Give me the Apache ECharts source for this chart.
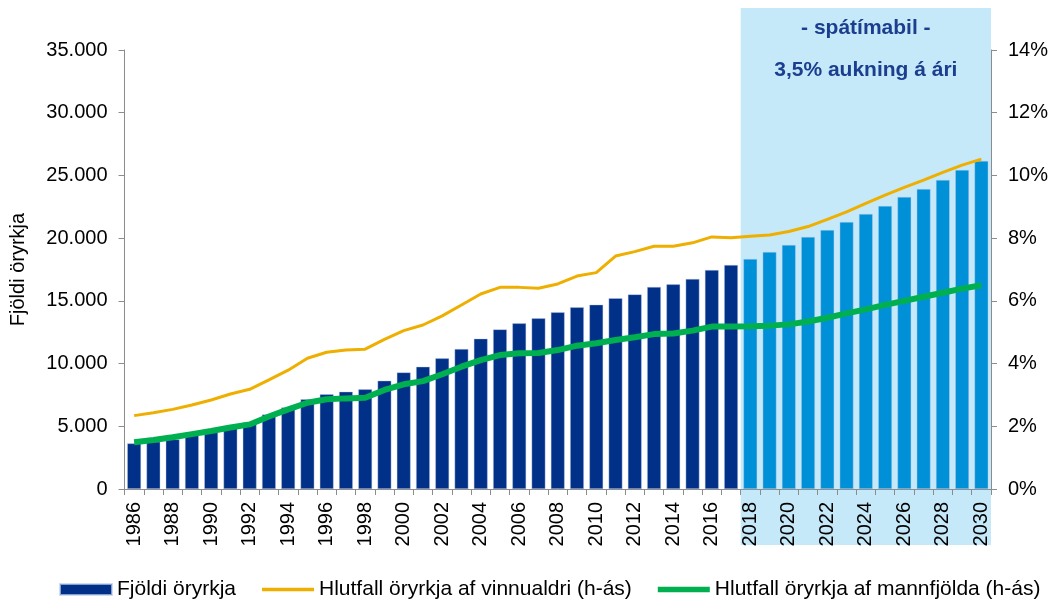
<!DOCTYPE html>
<html>
<head>
<meta charset="utf-8">
<script src="https://cdn.jsdelivr.net/npm/echarts@6/dist/echarts.min.js"></script>
<style>
html,body{margin:0;padding:0;background:#fff;}
#chart{width:1050px;height:599px;}
</style>
</head>
<body>
<div id="chart"></div>
<script>
const years = [];
for (let y = 1986; y <= 2030; y++) years.push(String(y));

const forecastStart = '2018';

const fjoldi = [3640, 3770, 3960, 4300, 4570, 5020, 5310, 5950, 6510, 7150, 7550, 7760, 7950, 8640, 9300, 9750, 10420,
  11160, 11990, 12730, 13210, 13610, 14090, 14490, 14700, 15210, 15520, 16110, 16320, 16750, 17460, 17860,
  18340, 18900, 19460, 20100, 20650, 21290, 21930, 22570, 23290, 23920, 24640, 25440, 26160];

const vinnualdri = [2.34, 2.43, 2.54, 2.68, 2.84, 3.03, 3.18, 3.48, 3.79, 4.17, 4.36, 4.43, 4.46, 4.77, 5.05, 5.23, 5.52,
  5.87, 6.22, 6.43, 6.43, 6.40, 6.54, 6.79, 6.90, 7.43, 7.57, 7.74, 7.74, 7.85, 8.04, 8.01,
  8.06, 8.10, 8.21, 8.37, 8.60, 8.84, 9.11, 9.37, 9.62, 9.85, 10.10, 10.33, 10.52];

const mannfjolda = [1.49, 1.56, 1.65, 1.75, 1.85, 1.96, 2.06, 2.31, 2.54, 2.75, 2.86, 2.89, 2.91, 3.16, 3.34, 3.44, 3.66,
  3.90, 4.11, 4.27, 4.33, 4.34, 4.43, 4.57, 4.65, 4.75, 4.84, 4.94, 4.96, 5.05, 5.18, 5.18,
  5.19, 5.21, 5.25, 5.34, 5.46, 5.60, 5.73, 5.87, 6.00, 6.13, 6.26, 6.39, 6.50];

const leftTicks = [0, 5000, 10000, 15000, 20000, 25000, 30000, 35000];
const rightTicks = [0, 2, 4, 6, 8, 10, 12, 14];

const names = ['Fjöldi öryrkja', 'Hlutfall öryrkja af vinnualdri (h-ás)', 'Hlutfall öryrkja af mannfjölda (h-ás)'];
const shadeTitle = '- spátímabil -';
const shadeSub = '3,5% aukning á ári';

const FONT = '"Liberation Sans", Arial, sans-serif';
const NAVY = '#003087';
const LIGHT = '#0090D8';
const SHADE = '#C6E9FA';
const ORANGE = '#EEAF00';
const GREEN = '#00B050';

const fIdx = years.indexOf(forecastStart);
const chart = echarts.init(document.getElementById('chart'), null, {renderer: 'canvas'});

const option = {
  animation: false,
  textStyle: {fontFamily: FONT},
  grid: {left: 124.5, right: 59, top: 50, bottom: 110, containLabel: false, outerBoundsMode: 'none'},
  legend: {
    top: 574,
    left: 54,
    itemWidth: 52,
    itemHeight: 11,
    itemGap: 26,
    textStyle: {fontFamily: FONT, fontSize: 21, color: '#000'},
    data: [
      {name: names[0], icon: 'rect', itemStyle: {color: NAVY}},
      {name: names[1], icon: 'path://M0,0H55V3.6H0Z', itemStyle: {color: ORANGE, borderWidth: 0}},
      {name: names[2], icon: 'path://M0,0H55V5.6H0Z', itemStyle: {color: GREEN, borderWidth: 0}}
    ]
  },
  xAxis: {
    type: 'category',
    data: years,
    boundaryGap: true,
    axisLine: {lineStyle: {color: '#8c8c8c', width: 1}},
    axisTick: {show: true, interval: 0, length: 6, lineStyle: {color: '#8c8c8c'}},
    axisLabel: {interval: 1, rotate: 90, fontSize: 20, color: '#000', margin: 13, fontFamily: FONT}
  },
  yAxis: [
    {
      type: 'value',
      min: leftTicks[0], max: leftTicks[leftTicks.length - 1], interval: leftTicks[1] - leftTicks[0],
      name: 'Fjöldi öryrkja',
      nameLocation: 'middle',
      nameGap: 96,
      nameRotate: 90,
      nameTextStyle: {fontSize: 20, color: '#000', fontFamily: FONT},
      axisLine: {show: true, lineStyle: {color: '#8c8c8c'}},
      axisTick: {show: true, length: 6, lineStyle: {color: '#8c8c8c'}},
      splitLine: {show: false},
      axisLabel: {
        fontSize: 20, color: '#000', margin: 17, fontFamily: FONT,
        formatter: v => v === 0 ? '0' : v.toLocaleString('en-US').replace(/,/g, '.')
      }
    },
    {
      type: 'value',
      min: rightTicks[0], max: rightTicks[rightTicks.length - 1], interval: rightTicks[1] - rightTicks[0],
      position: 'right',
      axisLine: {show: true, lineStyle: {color: '#8c8c8c'}},
      axisTick: {show: true, length: 6, lineStyle: {color: '#8c8c8c'}},
      splitLine: {show: false},
      axisLabel: {fontSize: 20, color: '#000', margin: 17, fontFamily: FONT, formatter: v => v + '%'}
    }
  ],
  series: [
    {
      name: names[0],
      type: 'bar',
      yAxisIndex: 0,
      barWidth: '72%',
      itemStyle: {
        color: p => p.dataIndex >= fIdx ? LIGHT : NAVY,
        borderColor: 'rgba(190,205,235,0.7)',
        borderWidth: 0.6
      },
      data: fjoldi,
      z: 2
    },
    {
      name: names[1],
      type: 'line',
      yAxisIndex: 1,
      symbol: 'none',
      lineStyle: {color: ORANGE, width: 3},
      itemStyle: {color: ORANGE},
      data: vinnualdri,
      z: 3
    },
    {
      name: names[2],
      type: 'line',
      yAxisIndex: 1,
      symbol: 'none',
      lineStyle: {color: GREEN, width: 6},
      itemStyle: {color: GREEN},
      data: mannfjolda,
      z: 4
    }
  ]
};
chart.setOption(option);

// Forecast shading: from the 2018 category boundary to the right edge of the plot
const c0 = chart.convertToPixel({xAxisIndex: 0}, years[fIdx]);
const c1 = chart.convertToPixel({xAxisIndex: 0}, years[fIdx + 1]);
const band = c1 - c0;
const xLeft = c0 - band / 2;
const xRight = chart.convertToPixel({xAxisIndex: 0}, years[years.length - 1]) + band / 2;
const yTop = 8;
const yBottom = 545;
const cx = (xLeft + xRight) / 2;

chart.setOption({
  graphic: [
    {type: 'rect', z: -10, silent: true,
     shape: {x: xLeft, y: yTop, width: xRight - xLeft, height: yBottom - yTop},
     style: {fill: SHADE}},
    {type: 'text', z: 10, silent: true, x: cx, y: 28,
     style: {text: shadeTitle, fill: '#1B3E8E', font: 'bold 21px ' + FONT, textAlign: 'center', textVerticalAlign: 'middle'}},
    {type: 'text', z: 10, silent: true, x: cx, y: 70,
     style: {text: shadeSub, fill: '#1B3E8E', font: 'bold 21px ' + FONT, textAlign: 'center', textVerticalAlign: 'middle'}}
  ]
});
</script>
</body>
</html>
